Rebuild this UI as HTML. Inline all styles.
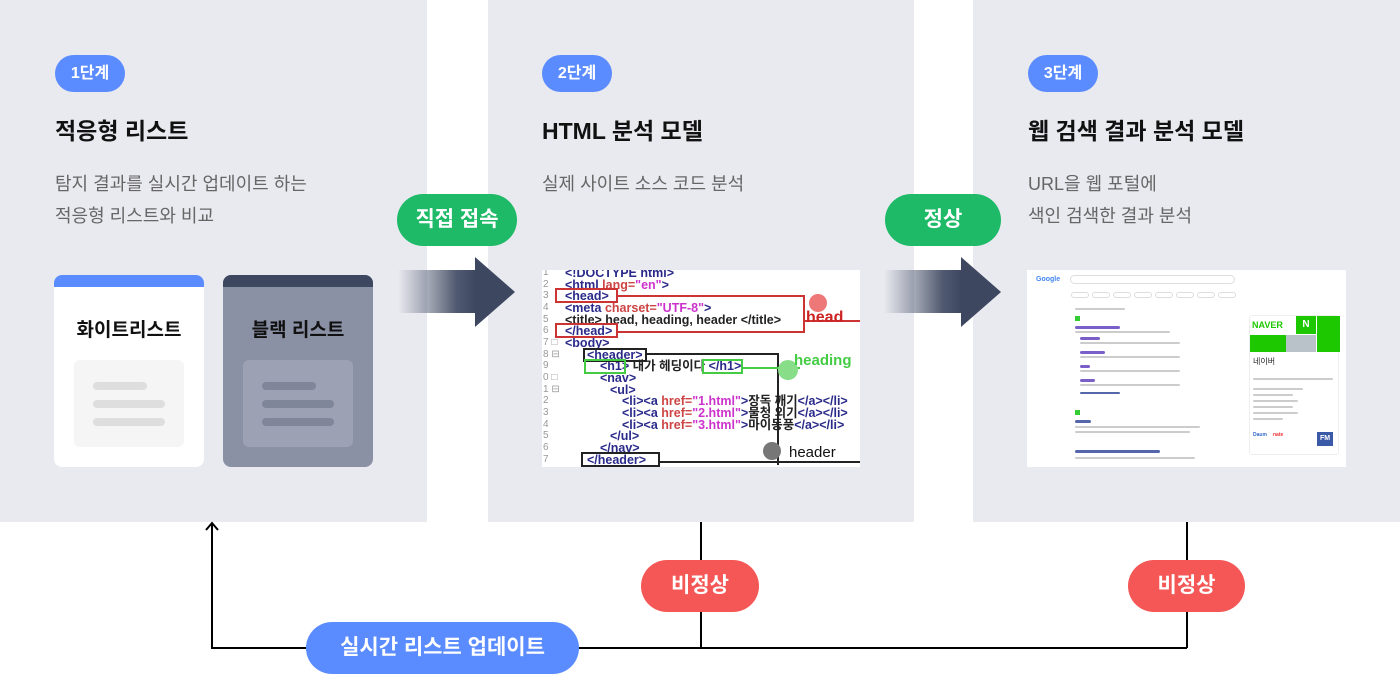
<!DOCTYPE html>
<html><head><meta charset="utf-8"><style>
*{margin:0;padding:0;box-sizing:border-box}
body{width:1400px;height:676px;background:#fff;position:relative;overflow:hidden;font-family:"Liberation Sans","Noto Sans CJK KR",sans-serif}
.abs{position:absolute}
.panel{position:absolute;top:0;height:522px;background:#e9eaf0}
.badge{position:absolute;top:55px;width:70px;height:37px;border-radius:19px;background:#5b8cff;color:#fff;font-size:16px;font-weight:bold;text-align:center;line-height:37px}
.title{position:absolute;top:112px;font-size:23px;font-weight:bold;color:#111}
.desc{position:absolute;top:168px;font-size:18px;color:#666;line-height:32px}
.pill{position:absolute;height:52px;border-radius:26px;color:#fff;font-size:21px;font-weight:bold;text-align:center;line-height:52px}
.g{background:#1fba68}.r{background:#f55757}.b{background:#5b8cff}
.card{position:absolute;top:275px;width:150px;height:192px;border-radius:8px;overflow:hidden}
.card .bar{height:12px}
.card .t{text-align:center;font-size:19px;font-weight:bold;color:#111;margin-top:28px}
.inner{position:absolute;left:20px;top:85px;width:110px;height:87px;border-radius:6px}
.ln{position:absolute;left:19px;height:8px;border-radius:4px}
.cl{position:absolute;font-size:12.5px;font-weight:bold;line-height:12px;white-space:nowrap;color:#2a2a8a}
.n{position:absolute;left:1px;font-size:10px;color:#999;line-height:12px}
.k{color:#c44}.v{color:#c3c}.d{color:#222}
.gl{position:absolute;height:3px;background:#ccc;border-radius:2px}
</style></head><body>

<div class="panel" style="left:0;width:427px"></div>
<div class="panel" style="left:488px;width:426px"></div>
<div class="panel" style="left:973px;width:427px"></div>

<div class="badge" style="left:55px">1단계</div>
<div class="title" style="left:55px">적응형 리스트</div>
<div class="desc" style="left:55px">탐지 결과를 실시간 업데이트 하는<br>적응형 리스트와 비교</div>

<div class="badge" style="left:542px">2단계</div>
<div class="title" style="left:542px">HTML 분석 모델</div>
<div class="desc" style="left:542px">실제 사이트 소스 코드 분석</div>

<div class="badge" style="left:1028px">3단계</div>
<div class="title" style="left:1028px">웹 검색 결과 분석 모델</div>
<div class="desc" style="left:1028px">URL을 웹 포털에<br>색인 검색한 결과 분석</div>

<div class="card" style="left:54px;background:#fff">
 <div class="bar" style="background:#5b8cff"></div>
 <div class="t">화이트리스트</div>
 <div class="inner" style="background:#f5f5f6">
  <div class="ln" style="top:22px;width:54px;background:#dedede"></div>
  <div class="ln" style="top:40px;width:72px;background:#dedede"></div>
  <div class="ln" style="top:58px;width:72px;background:#dedede"></div>
 </div>
</div>
<div class="card" style="left:223px;background:#8b91a5">
 <div class="bar" style="background:#3d4760"></div>
 <div class="t">블랙 리스트</div>
 <div class="inner" style="background:#9ca1b3">
  <div class="ln" style="top:22px;width:54px;background:#80869a"></div>
  <div class="ln" style="top:40px;width:72px;background:#80869a"></div>
  <div class="ln" style="top:58px;width:72px;background:#80869a"></div>
 </div>
</div>

<svg class="abs" style="left:0;top:0" width="1400" height="676">
 <defs>
  <linearGradient id="ag" x1="0" x2="1" y1="0" y2="0">
   <stop offset="0" stop-color="#3d4760" stop-opacity="0"/>
   <stop offset="0.75" stop-color="#3d4760" stop-opacity="0.9"/>
   <stop offset="1" stop-color="#3d4760"/>
  </linearGradient>
 </defs>
 <rect x="398" y="270" width="78" height="43" fill="url(#ag)"/>
 <polygon points="475,257 515,292 475,327" fill="#3d4760"/>
 <rect x="884" y="270" width="78" height="43" fill="url(#ag)"/>
 <polygon points="961,257 1001,292 961,327" fill="#3d4760"/>
 <g stroke="#000" stroke-width="2" fill="none">
  <polyline points="701,522 701,648"/>
  <polyline points="1187,522 1187,648"/>
  <polyline points="1187,648 212,648 212,523"/>
  <polyline points="206,530 212,523 218,530"/>
 </g>
</svg>

<div class="pill g" style="left:397px;top:194px;width:120px">직접 접속</div>
<div class="pill g" style="left:885px;top:194px;width:116px">정상</div>
<div class="pill r" style="left:641px;top:560px;width:118px">비정상</div>
<div class="pill r" style="left:1128px;top:560px;width:117px">비정상</div>
<div class="pill b" style="left:306px;top:622px;width:273px">실시간 리스트 업데이트</div>

<!-- code image -->
<div class="abs" style="left:542px;top:270px;width:318px;height:197px;background:#fff;overflow:hidden">
 <div class="n" style="top:-3px">1</div><div class="cl" style="left:23px;top:-3px">&lt;!DOCTYPE html&gt;</div>
 <div class="n" style="top:9px">2</div><div class="cl" style="left:23px;top:9px">&lt;html <span class="k">lang=</span><span class="v">"en"</span>&gt;</div>
 <div class="n" style="top:20px">3</div><div class="cl" style="left:23px;top:20px">&lt;head&gt;</div>
 <div class="n" style="top:32px">4</div><div class="cl" style="left:23px;top:32px">&lt;meta <span class="k">charset=</span><span class="v">"UTF-8"</span>&gt;</div>
 <div class="n" style="top:44px">5</div><div class="cl" style="left:23px;top:44px"><span class="d">&lt;title&gt; head, heading, header &lt;/title&gt;</span></div>
 <div class="n" style="top:55px">6</div><div class="cl" style="left:23px;top:55px">&lt;/head&gt;</div>
 <div class="n" style="top:67px">7 □</div><div class="cl" style="left:23px;top:67px">&lt;body&gt;</div>
 <div class="n" style="top:79px">8 ⊟</div><div class="cl" style="left:45px;top:79px">&lt;header&gt;</div>
 <div class="n" style="top:90px">9</div><div class="cl" style="left:58px;top:90px">&lt;h1&gt; <span class="d">내가 헤딩이다</span> &lt;/h1&gt;</div>
 <div class="n" style="top:102px">0 □</div><div class="cl" style="left:58px;top:102px">&lt;nav&gt;</div>
 <div class="n" style="top:114px">1 ⊟</div><div class="cl" style="left:68px;top:114px">&lt;ul&gt;</div>
 <div class="n" style="top:125px">2</div><div class="cl" style="left:80px;top:125px">&lt;li&gt;&lt;a <span class="k">href=</span><span class="v">"1.html"</span>&gt;<span class="d">장독 깨기</span>&lt;/a&gt;&lt;/li&gt;</div>
 <div class="n" style="top:137px">3</div><div class="cl" style="left:80px;top:137px">&lt;li&gt;&lt;a <span class="k">href=</span><span class="v">"2.html"</span>&gt;<span class="d">물청 외기</span>&lt;/a&gt;&lt;/li&gt;</div>
 <div class="n" style="top:149px">4</div><div class="cl" style="left:80px;top:149px">&lt;li&gt;&lt;a <span class="k">href=</span><span class="v">"3.html"</span>&gt;<span class="d">마이동풍</span>&lt;/a&gt;&lt;/li&gt;</div>
 <div class="n" style="top:160px">5</div><div class="cl" style="left:68px;top:160px">&lt;/ul&gt;</div>
 <div class="n" style="top:172px">6</div><div class="cl" style="left:58px;top:172px">&lt;/nav&gt;</div>
 <div class="n" style="top:184px">7</div><div class="cl" style="left:45px;top:184px">&lt;/header&gt;</div>
 <svg class="abs" style="left:0;top:0" width="318" height="197">
  <g fill="none" stroke-width="2">
   <rect x="14" y="19" width="61" height="13" stroke="#c33"/>
   <rect x="14" y="54" width="61" height="13" stroke="#c33"/>
   <polyline points="75,26 262,26 262,62 75,62" stroke="#c33"/>
   <line x1="262" y1="51" x2="318" y2="51" stroke="#c33"/>
   <rect x="42" y="79" width="62" height="12" stroke="#222"/>
   <polyline points="104,84 236,84 236,195" stroke="#222"/>
   <rect x="40" y="183" width="77" height="13" stroke="#222"/>
   <line x1="117" y1="192" x2="318" y2="192" stroke="#222"/>
   <rect x="43" y="90" width="40" height="13" stroke="#4c4"/>
   <rect x="161" y="90" width="39" height="13" stroke="#4c4"/>
   <line x1="200" y1="98" x2="258" y2="98" stroke="#4c4"/>
  </g>
  <circle cx="276" cy="33" r="9" fill="#e77"/>
  <circle cx="246" cy="100" r="10" fill="#8d8"/>
  <circle cx="230" cy="181" r="9" fill="#777"/>
  <text x="264" y="52" font-size="16" font-weight="bold" fill="#c22" font-family="Liberation Sans,sans-serif">head</text>
  <text x="252" y="95" font-size="15" font-weight="bold" fill="#4c4" font-family="Liberation Sans,sans-serif">heading</text>
  <text x="247" y="187" font-size="15" fill="#111" font-family="Liberation Sans,sans-serif">header</text>
 </svg>
</div>

<!-- google image -->
<div class="abs" style="left:1027px;top:270px;width:319px;height:197px;background:#fff;overflow:hidden">
 <div class="abs" style="left:9px;top:6px;font-size:7px;color:#4285f4;font-weight:bold">Google</div>
 <div class="abs" style="left:43px;top:5px;width:165px;height:9px;border:1px solid #ddd;border-radius:5px"></div>
 <div class="abs" style="left:44px;top:22px;width:165px;height:6px;display:flex;gap:3px">
  <div style="flex:1;border:1px solid #ddd;border-radius:3px"></div><div style="flex:1;border:1px solid #ddd;border-radius:3px"></div><div style="flex:1;border:1px solid #ddd;border-radius:3px"></div><div style="flex:1;border:1px solid #ddd;border-radius:3px"></div><div style="flex:1;border:1px solid #ddd;border-radius:3px"></div><div style="flex:1;border:1px solid #ddd;border-radius:3px"></div><div style="flex:1;border:1px solid #ddd;border-radius:3px"></div><div style="flex:1;border:1px solid #ddd;border-radius:3px"></div>
 </div>
 <div class="gl" style="left:48px;top:38px;width:50px;height:2px"></div>
 <div class="abs" style="left:48px;top:46px;width:5px;height:5px;background:#3c3"></div>
 <div class="gl" style="left:48px;top:56px;width:45px;background:#7b5fc9"></div>
 <div class="gl" style="left:48px;top:61px;width:95px;height:2px"></div>
 <div class="gl" style="left:53px;top:67px;width:20px;background:#7b5fc9"></div>
 <div class="gl" style="left:53px;top:72px;width:100px;height:2px"></div>
 <div class="gl" style="left:53px;top:81px;width:25px;background:#7b5fc9"></div>
 <div class="gl" style="left:53px;top:86px;width:100px;height:2px"></div>
 <div class="gl" style="left:53px;top:95px;width:10px;background:#7b5fc9"></div>
 <div class="gl" style="left:53px;top:100px;width:100px;height:2px"></div>
 <div class="gl" style="left:53px;top:109px;width:15px;background:#7b5fc9"></div>
 <div class="gl" style="left:53px;top:114px;width:100px;height:2px"></div>
 <div class="gl" style="left:53px;top:122px;width:40px;height:2px;background:#56a"></div>
 <div class="abs" style="left:48px;top:140px;width:5px;height:5px;background:#3c3"></div>
 <div class="gl" style="left:48px;top:150px;width:16px;background:#56a"></div>
 <div class="gl" style="left:48px;top:156px;width:125px;height:2px"></div>
 <div class="gl" style="left:48px;top:161px;width:115px;height:2px"></div>
 <div class="gl" style="left:48px;top:180px;width:85px;background:#56a"></div>
 <div class="gl" style="left:48px;top:187px;width:120px;height:2px"></div>
 <div class="abs" style="left:222px;top:45px;width:90px;height:140px;border:1px solid #eee;border-radius:3px">
  <div class="abs" style="left:0;top:0;width:45px;height:18px;font-size:9px;font-weight:bold;color:#1ec800;line-height:18px;padding-left:2px">NAVER</div>
  <div class="abs" style="left:46px;top:0;width:20px;height:18px;background:#1ec800;color:#fff;font-size:10px;font-weight:bold;text-align:center;line-height:18px">N</div>
  <div class="abs" style="left:67px;top:0;width:23px;height:36px;background:#1ec800"></div>
  <div class="abs" style="left:0;top:19px;width:66px;height:17px;background:#1ec800"></div>
  <div class="abs" style="left:36px;top:19px;width:30px;height:17px;background:#b9c2c8"></div>
  <div class="abs" style="left:3px;top:40px;font-size:8px;color:#222">네이버</div>
  <div class="gl" style="left:3px;top:62px;width:80px;height:2px"></div>
  <div class="gl" style="left:3px;top:72px;width:50px;height:2px"></div>
  <div class="gl" style="left:3px;top:78px;width:40px;height:2px"></div>
  <div class="gl" style="left:3px;top:84px;width:45px;height:2px"></div>
  <div class="gl" style="left:3px;top:90px;width:40px;height:2px"></div>
  <div class="gl" style="left:3px;top:96px;width:45px;height:2px"></div>
  <div class="gl" style="left:3px;top:102px;width:30px;height:2px"></div>
  <div class="abs" style="left:3px;top:116px;width:14px;height:14px;font-size:5px;font-weight:bold;color:#36c">Daum</div>
  <div class="abs" style="left:23px;top:116px;font-size:5px;font-weight:bold;color:#e33">nate</div>
  <div class="abs" style="left:67px;top:116px;width:16px;height:14px;background:#3a5aa8;color:#fff;font-size:7px;font-weight:bold;text-align:center;line-height:14px">FM</div>
 </div>
</div>

</body></html>
